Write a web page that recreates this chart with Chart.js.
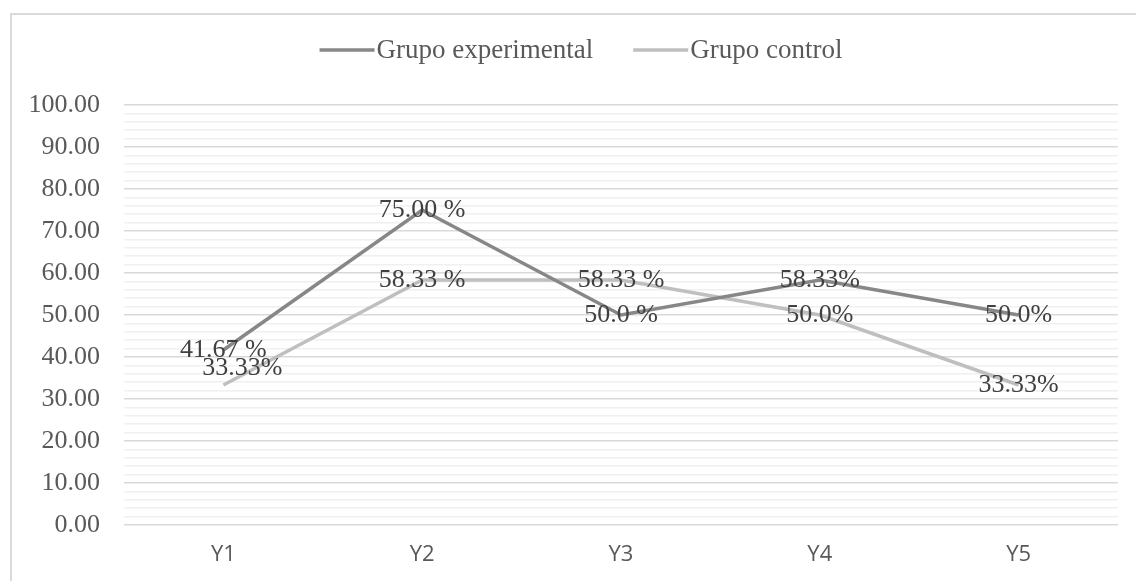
<!DOCTYPE html>
<html>
<head>
<meta charset="utf-8">
<script src="https://cdn.jsdelivr.net/npm/chart.js@4/dist/chart.umd.min.js"></script>
<style>
  html, body { margin: 0; padding: 0; background: #ffffff; overflow: hidden; }
  #frame {
    position: absolute; left: 10px; top: 13px;
    width: 1160px; height: 600px;
    border-left: 2px solid #d9d9d9; border-top: 2px solid #d9d9d9;
  }
  #wrap { position: absolute; left: 0; top: 0; width: 1136px; height: 581px; }
</style>
</head>
<body>
<div id="frame"></div>
<div id="wrap"><canvas id="chart" width="1136" height="581"></canvas></div>
<script>
// Categories and series
const categories = ['Y1', 'Y2', 'Y3', 'Y4', 'Y5'];
const experimental = [41.67, 75.00, 50.0, 58.33, 50.0];
const control = [33.33, 58.33, 58.33, 50.0, 33.33];

// Value labels as printed next to each point
const experimentalLabels = ['41.67 %', '75.00 %', '50.0 %', '58.33%', '50.0%'];
const controlLabels = ['33.33%', '58.33 %', '58.33 %', '50.0%', '33.33%'];

const serif = "'Liberation Serif', 'Times New Roman', serif";

// Draws each dataset's value labels centred on its points
const pointLabels = {
  id: 'pointLabels',
  afterDatasetsDraw(chart, args, opts) {
    const ctx = chart.ctx;
    ctx.save();
    ctx.font = `${opts.size}px ${serif}`;
    ctx.fillStyle = opts.color;
    ctx.textAlign = 'center';
    ctx.textBaseline = 'middle';
    chart.data.datasets.forEach((ds, di) => {
      const meta = chart.getDatasetMeta(di);
      const shifts = (opts.shift && opts.shift[di]) || {};
      meta.data.forEach((pt, i) => {
        const s = shifts[i] || [0, 0];
        ctx.fillText(ds.valueLabels[i], pt.x + s[0], pt.y + s[1]);
      });
    });
    ctx.restore();
  }
};

// Legend row: a line swatch directly followed by the series name
const lineLegend = {
  id: 'lineLegend',
  afterDraw(chart, args, opts) {
    const ctx = chart.ctx;
    ctx.save();
    ctx.font = `${opts.size}px ${serif}`;
    ctx.textBaseline = 'middle';
    ctx.textAlign = 'left';
    const items = chart.data.datasets.map(ds => ({
      text: ds.label,
      color: ds.borderColor,
      width: ds.borderWidth,
      textW: ctx.measureText(ds.label).width
    }));
    const total = items.reduce((a, it) => a + opts.swatch + opts.gap + it.textW, 0)
      + opts.spacing * (items.length - 1);
    let x = opts.centerX - total / 2;
    items.forEach(it => {
      ctx.strokeStyle = it.color;
      ctx.lineWidth = it.width;
      ctx.beginPath();
      ctx.moveTo(x, opts.y);
      ctx.lineTo(x + opts.swatch, opts.y);
      ctx.stroke();
      x += opts.swatch + opts.gap;
      ctx.fillStyle = opts.color;
      ctx.fillText(it.text, x, opts.y + 1);
      x += it.textW + opts.spacing;
    });
    ctx.restore();
  }
};

new Chart(document.getElementById('chart'), {
  type: 'line',
  data: {
    labels: categories,
    datasets: [
      {
        label: 'Grupo experimental',
        data: experimental,
        valueLabels: experimentalLabels,
        borderColor: '#878787',
        backgroundColor: '#878787',
        borderWidth: 3.5,
        pointRadius: 0,
        tension: 0
      },
      {
        label: 'Grupo control',
        data: control,
        valueLabels: controlLabels,
        borderColor: '#bfbfbf',
        backgroundColor: '#bfbfbf',
        borderWidth: 3.5,
        pointRadius: 0,
        tension: 0
      }
    ]
  },
  options: {
    responsive: false,
    animation: false,
    layout: { padding: { left: 0, right: 18, top: 105, bottom: 0 } },
    plugins: {
      tooltip: { enabled: false },
      legend: { display: false },
      lineLegend: {
        centerX: 581,
        y: 50,
        swatch: 55,
        gap: 2,
        spacing: 40,
        size: 27,
        color: '#595959'
      },
      pointLabels: {
        size: 26,
        color: '#404040',
        shift: { 1: { 0: [19, -17] } }
      }
    },
    scales: {
      x: {
        offset: true,
        grid: { display: false, drawTicks: false },
        border: { display: false },
        ticks: {
          padding: 17,
          color: '#595959',
          font: { family: "'Open Sans', sans-serif", size: 22 }
        },
        afterFit(s) { s.height = 56; }
      },
      y: {
        min: 0,
        max: 100,
        grid: {
          drawTicks: false,
          color: (c) => (c.tick && Math.round(c.tick.value) % 10 === 0) ? '#d9d9d9' : '#f0f0f0',
          lineWidth: 1.5
        },
        border: { display: false },
        ticks: {
          stepSize: 2,
          autoSkip: false,
          padding: 24,
          color: '#595959',
          font: { family: serif, size: 26 },
          callback: (v) => (Math.round(v) % 10 === 0) ? Number(v).toFixed(2) : ''
        },
        afterFit(s) { s.width = 124; }
      }
    }
  },
  plugins: [pointLabels, lineLegend]
});
</script>
</body>
</html>
